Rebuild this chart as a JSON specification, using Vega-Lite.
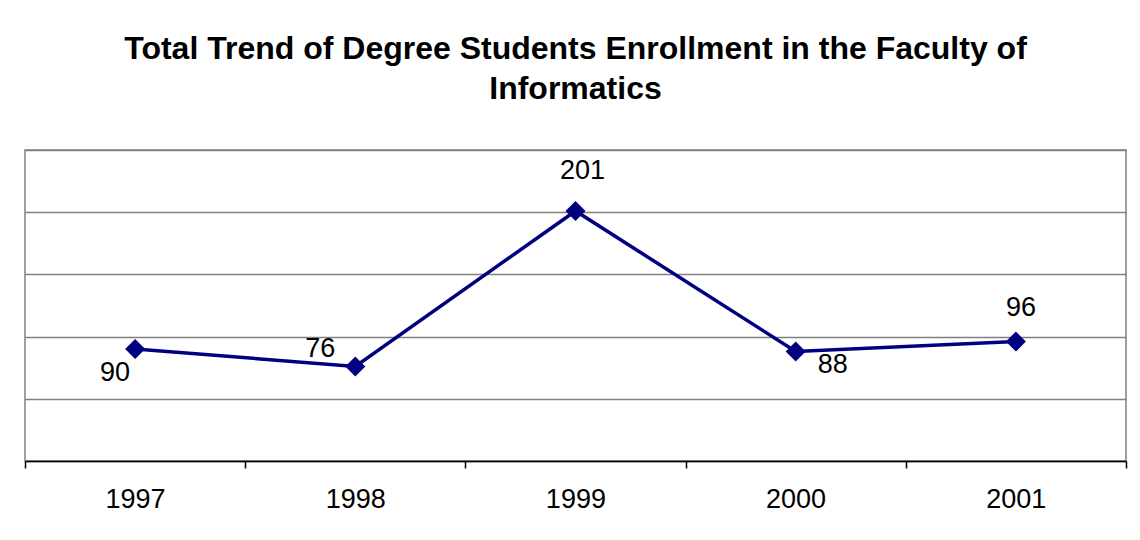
{
  "$schema": "https://vega.github.io/schema/vega-lite/v6.json",
  "autosize": "none",
  "padding": {"left": 25, "top": 150, "right": 14, "bottom": 79},
  "width": 1101,
  "height": 311,
  "background": "white",
  "title": {
    "text": ["Total Trend of Degree Students Enrollment in the Faculty of", "Informatics"],
    "font": "Liberation Sans",
    "fontSize": 32,
    "fontWeight": "bold",
    "color": "black",
    "anchor": "middle",
    "baseline": "bottom",
    "lineHeight": 40,
    "offset": 12
  },
  "config": {
    "view": {"stroke": "#808080", "strokeWidth": 1.5},
    "font": "Liberation Sans"
  },
  "data": {
    "values": [
      {"year": 1997, "students": 90},
      {"year": 1998, "students": 76},
      {"year": 1999, "students": 201},
      {"year": 2000, "students": 88},
      {"year": 2001, "students": 96}
    ]
  },
  "encoding": {
    "x": {
      "field": "year",
      "type": "quantitative",
      "scale": {"domain": [1996.5, 2001.5], "nice": false, "zero": false},
      "axis": {
        "title": null,
        "values": [1996.5, 1997.5, 1998.5, 1999.5, 2000.5, 2001.5],
        "labelExpr": "datum.value > 2001 ? '' : toString(datum.value + 0.5)",
        "labelOffset": 110,
        "labelFont": "Liberation Sans",
        "labelFontSize": 27,
        "labelColor": "black",
        "labelPadding": 18,
        "labelFlush": false,
        "labelOverlap": false,
        "labelBound": false,
        "grid": false,
        "domainColor": "black",
        "domainWidth": 1.5,
        "tickColor": "black",
        "tickWidth": 1.5,
        "tickSize": 7
      }
    },
    "y": {
      "field": "students",
      "type": "quantitative",
      "scale": {"domain": [0, 250], "nice": false},
      "axis": {
        "title": null,
        "values": [0, 50, 100, 150, 200, 250],
        "labels": false,
        "ticks": false,
        "domain": false,
        "grid": true,
        "gridColor": "#808080",
        "gridWidth": 1.5
      }
    }
  },
  "layer": [
    {"mark": {"type": "line", "color": "#000080", "strokeWidth": 3.5}},
    {"mark": {"type": "point", "shape": "diamond", "filled": true, "opacity": 1, "color": "#000080", "size": 400}},
    {
      "transform": [{"filter": "datum.year == 1997"}],
      "mark": {"type": "text", "fontSize": 27, "color": "black", "align": "center", "baseline": "middle", "dx": -20, "dy": 24},
      "encoding": {"text": {"field": "students", "type": "quantitative"}}
    },
    {
      "transform": [{"filter": "datum.year == 1998"}],
      "mark": {"type": "text", "fontSize": 27, "color": "black", "align": "center", "baseline": "middle", "dx": -35, "dy": -17},
      "encoding": {"text": {"field": "students", "type": "quantitative"}}
    },
    {
      "transform": [{"filter": "datum.year == 1999"}],
      "mark": {"type": "text", "fontSize": 27, "color": "black", "align": "center", "baseline": "middle", "dx": 7, "dy": -40},
      "encoding": {"text": {"field": "students", "type": "quantitative"}}
    },
    {
      "transform": [{"filter": "datum.year == 2000"}],
      "mark": {"type": "text", "fontSize": 27, "color": "black", "align": "center", "baseline": "middle", "dx": 37, "dy": 13},
      "encoding": {"text": {"field": "students", "type": "quantitative"}}
    },
    {
      "transform": [{"filter": "datum.year == 2001"}],
      "mark": {"type": "text", "fontSize": 27, "color": "black", "align": "center", "baseline": "middle", "dx": 5, "dy": -34},
      "encoding": {"text": {"field": "students", "type": "quantitative"}}
    }
  ]
}
